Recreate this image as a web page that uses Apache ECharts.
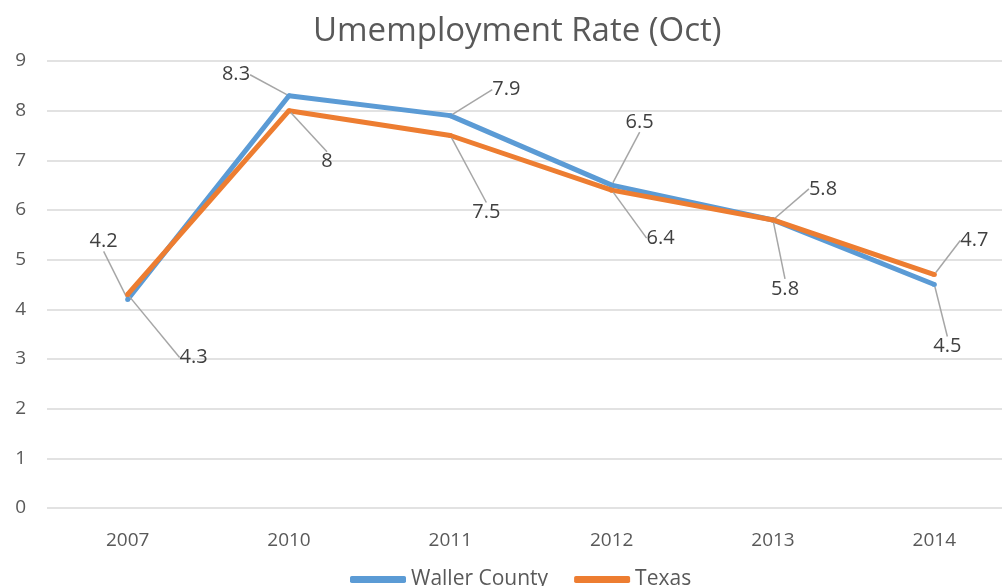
<!DOCTYPE html>
<html>
<head>
<meta charset="utf-8">
<script src="https://cdn.jsdelivr.net/npm/echarts@6/dist/echarts.min.js"></script>
<style>
html, body { margin: 0; padding: 0; background: #fff; }
#chart { width: 1002px; height: 586px; }
</style>
</head>
<body>
<div id="chart"></div>
<script>
var years = ['2007', '2010', '2011', '2012', '2013', '2014'];
var waller = [4.2, 8.3, 7.9, 6.5, 5.8, 4.5];
var texas = [4.3, 8, 7.5, 6.4, 5.8, 4.7];

// label offsets from each point (px), like Excel's dragged data labels
var wallerOffsets = [[-24, -58], [-53, -21], [56, -26], [28, -63], [50, -31], [13, 62]];
var texasOffsets = [[66, 63], [38, 51], [36, 77], [49, 48], [12, 69], [40, -34]];

var myChart = echarts.init(document.getElementById('chart'));

function layoutFor(offsets) {
    return function (params) {
        var r = params.rect;
        var o = offsets[params.dataIndex];
        return {
            x: r.x + r.width / 2 + o[0],
            y: r.y + r.height / 2 + o[1],
            align: 'center',
            verticalAlign: 'middle'
        };
    };
}

var labelStyle = {
    show: true,
    color: '#404040',
    fontSize: 20,
    fontFamily: 'Open Sans'
};

option = {
    backgroundColor: '#fff',
    color: ['#5B9BD5', '#ED7D31'],
    title: {
        text: 'Umemployment Rate (Oct)',
        left: 308,
        top: 10,
        textStyle: {
            color: '#595959',
            fontSize: 33,
            fontWeight: 'normal',
            fontFamily: 'Open Sans'
        }
    },
    legend: {
        bottom: -9,
        left: 345,
        icon: 'roundRect',
        itemWidth: 56,
        itemHeight: 7,
        itemGap: 26,
        textStyle: {
            color: '#595959',
            fontSize: 21,
            fontFamily: 'Open Sans'
        },
        data: ['Waller County', 'Texas']
    },
    grid: {
        left: 47,
        top: 61,
        width: 968,
        height: 447,
        outerBoundsMode: 'none'
    },
    xAxis: {
        type: 'category',
        data: years,
        boundaryGap: true,
        axisLine: { show: false },
        axisTick: { show: false },
        axisLabel: {
            color: '#595959',
            fontSize: 19,
            fontFamily: 'Open Sans',
            margin: 23
        }
    },
    yAxis: {
        type: 'value',
        min: 0,
        max: 9,
        interval: 1,
        axisLine: { show: false },
        axisTick: { show: false },
        axisLabel: {
            color: '#595959',
            fontSize: 19,
            fontFamily: 'Open Sans',
            margin: 21
        },
        splitLine: { lineStyle: { color: '#d9d9d9', width: 1.5 } }
    },
    series: [
        {
            name: 'Waller County',
            type: 'line',
            data: waller,
            symbol: 'circle',
            symbolSize: 5,
            lineStyle: { width: 5 },
            label: labelStyle,
            labelLine: { show: true, lineStyle: { color: '#a6a6a6', width: 1.5 } },
            labelLayout: layoutFor(wallerOffsets),
            z: 2
        },
        {
            name: 'Texas',
            type: 'line',
            data: texas,
            symbol: 'circle',
            symbolSize: 5,
            lineStyle: { width: 5 },
            label: labelStyle,
            labelLine: { show: true, lineStyle: { color: '#a6a6a6', width: 1.5 } },
            labelLayout: layoutFor(texasOffsets),
            z: 3
        }
    ]
};

myChart.setOption(option);
</script>
</body>
</html>
